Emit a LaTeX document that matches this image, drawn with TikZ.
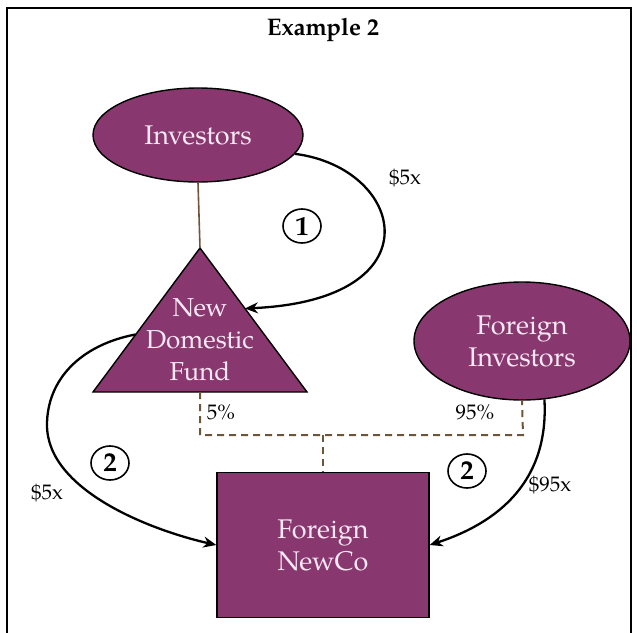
\documentclass[tikz,border=0pt]{standalone}
\usepackage{fontspec}
\setmainfont{TeX Gyre Pagella}
\usetikzlibrary{shapes.geometric,arrows.meta,calc}
\definecolor{plum}{RGB}{136,56,110}
\definecolor{pinktext}{RGB}{248,232,244}
\definecolor{brn}{RGB}{110,85,55}
\tikzset{
  shapebox/.style={fill=plum, draw=black, line width=1.4pt, text=pinktext, font=\fontsize{27}{32}\selectfont, align=center},
  flow/.style={draw=black, line width=2.3pt, -{Stealth[length=13pt,width=11pt]}},
  own/.style={draw=brn, line width=2pt, dash pattern=on 7pt off 5pt},
  lbl/.style={font=\fontsize{21}{24}\selectfont, text=black},
  stepnum/.style={ellipse, draw=black, line width=1.6pt, minimum width=38, minimum height=34, inner sep=0pt, font=\fontsize{27}{27}\selectfont\bfseries}
}
\begin{document}
\begin{tikzpicture}[x=1pt,y=-1pt]
\useasboundingbox (0,0) rectangle (637,632);
\draw[line width=2.4pt] (7,8) rectangle (631,660);
\node[font=\fontsize{24}{26}\selectfont\bfseries] (title) at (323,30) {Example 2};

% shapes
\node[shapebox, ellipse, minimum width=210, minimum height=94, inner sep=0pt] (inv) at (198,135) {Investors};
\node[shapebox, ellipse, minimum width=216, minimum height=118, inner sep=0pt] (fi) at (522,341) {Foreign\\Investors};
\node[shapebox, rectangle, minimum width=212, minimum height=145, inner sep=0pt] (nc) at (323,545) {Foreign\\NewCo};

\coordinate (apex) at (200,248);
\coordinate (bl) at (93,392);
\coordinate (br) at (307,392);
\fill[plum] (apex) -- (bl) -- (br) -- cycle;
\draw[line width=1.4pt, line join=miter] (apex) -- (bl) -- (br) -- cycle;
\node[text=pinktext, font=\fontsize{26}{32}\selectfont, align=center] (ndf) at (200,340) {New\\Domestic\\Fund};
\coordinate (tb) at (200,392);
\coordinate (tin) at ($(apex)!0.42!(br)$);
\coordinate (tout) at ($(apex)!0.6!(bl)$);

% ownership line
\draw[draw=brn, line width=1.6pt] (inv.south) -- (apex);

% dashed ownership
\coordinate (bus) at (323,435);
\draw[own] (tb) -- (200,435) -- (523,435) -- (fi.south);
\draw[own] (bus) -- (nc.north);

% flows
\draw[flow] (inv.-11) .. controls (405,168) and (438,300) .. (tin);
\draw[flow] (tout) .. controls (80,345) and (47,380) .. (47,425) .. controls (47,490) and (150,530) .. (nc.west);
\draw[flow] (fi.-69) .. controls (549,480) and (500,522) .. (nc.east);

% labels
\node[lbl] (l5a) at (405,178) {\$5x};
\node[lbl] (l5b) at (47,493) {\$5x};
\node[lbl] (l95) at (550,485) {\$95x};
\node[lbl] (p5) at (221,412) {5\%};
\node[lbl] (p95) at (475,412) {95\%};

\node[stepnum] (s1) at (302,226) {1};
\node[stepnum] (s2a) at (110,463) {2};
\node[stepnum] (s2b) at (467,471) {2};
\end{tikzpicture}
\end{document}
